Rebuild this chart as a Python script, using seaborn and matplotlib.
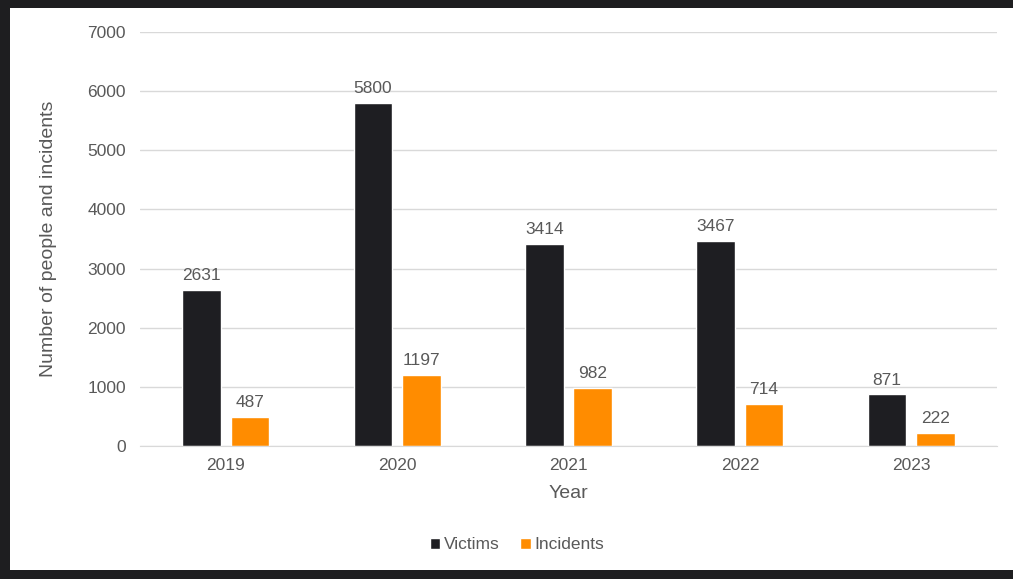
import pandas as pd
import matplotlib
matplotlib.use("Agg")
from matplotlib import pyplot as plt
from matplotlib.patches import Rectangle
import seaborn as sns

YEARS = ["2019", "2020", "2021", "2022", "2023"]
VICTIMS = [2631, 5800, 3414, 3467, 871]
INCIDENTS = [487, 1197, 982, 714, 222]

df = pd.DataFrame({"Year": YEARS, "Victims": VICTIMS, "Incidents": INCIDENTS})
tidy = df.melt(id_vars="Year", var_name="Series", value_name="Value")

sns.set_style("white")
plt.rcParams["font.family"] = ["Liberation Sans", "DejaVu Sans"]
TXT = "#595959"

fig = plt.figure(figsize=(10.13, 5.79), dpi=100, facecolor="#1e1e20")
# white page inside the dark frame
fig.patches.append(Rectangle((10 / 1013, 9 / 579), 1 - 10 / 1013, 1 - 17 / 579,
                             transform=fig.transFigure, facecolor="white",
                             edgecolor="none", zorder=-10))
ax = fig.add_axes([140 / 1013, 1 - 446 / 579, 857 / 1013, 414 / 579])
ax.set_facecolor("white")

sns.barplot(data=tidy, x="Year", y="Value", hue="Series", ax=ax,
            palette={"Victims": "#1e1e22", "Incidents": "#ff8c00"},
            width=0.565, gap=0.2, saturation=1)

for cont in ax.containers:
    ax.bar_label(cont, padding=5, fontsize=12.5, color=TXT)

ax.set_ylim(0, 7000)
ax.set_yticks(range(0, 7001, 1000))
ax.grid(True, axis="y", color="#d9d9d9", linewidth=1)
ax.set_axisbelow(True)
for side in ["top", "right", "left"]:
    ax.spines[side].set_visible(False)
ax.spines["bottom"].set_color("#d9d9d9")
ax.tick_params(axis="both", length=0, labelsize=12.5, labelcolor=TXT)
ax.tick_params(axis="y", pad=10)
ax.tick_params(axis="x", pad=9)
ax.set_xlabel("Year", fontsize=14, color=TXT, labelpad=8)
ax.set_ylabel("Number of people and incidents", fontsize=14, color=TXT, labelpad=22)

ax.legend(title="", loc="center", bbox_to_anchor=(0.44, -0.239), ncol=2,
          frameon=False, fontsize=12.5, labelcolor=TXT, handlelength=0.6,
          handleheight=0.6, handletextpad=0.2, columnspacing=1.2)

fig.savefig("out.png", dpi=100, facecolor=fig.get_facecolor())
